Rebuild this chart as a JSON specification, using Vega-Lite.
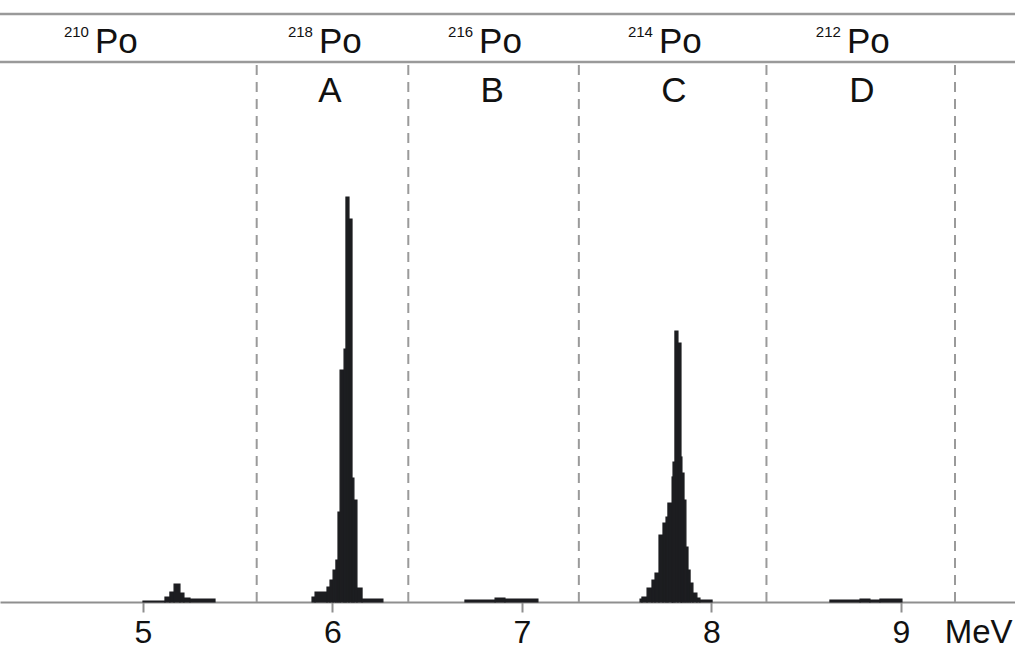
{
  "$schema": "https://vega.github.io/schema/vega-lite/v6.json",
  "autosize": {"type": "none"},
  "padding": {"top": 14, "left": 0, "right": 0, "bottom": 48},
  "width": 1015,
  "height": 588,
  "background": "white",
  "config": {
    "view": {"stroke": null},
    "font": "Liberation Sans",
    "axis": {"grid": false}
  },
  "datasets": {
    "hist": [
      {"x0": 5.000, "x1": 5.116, "h": 1},
      {"x0": 5.116, "x1": 5.142, "h": 5},
      {"x0": 5.142, "x1": 5.164, "h": 10},
      {"x0": 5.164, "x1": 5.195, "h": 18},
      {"x0": 5.195, "x1": 5.216, "h": 9},
      {"x0": 5.216, "x1": 5.248, "h": 4},
      {"x0": 5.248, "x1": 5.380, "h": 3},
      {"x0": 5.892, "x1": 5.908, "h": 5},
      {"x0": 5.908, "x1": 5.971, "h": 10},
      {"x0": 5.971, "x1": 5.987, "h": 15},
      {"x0": 5.987, "x1": 6.003, "h": 22},
      {"x0": 6.003, "x1": 6.018, "h": 32},
      {"x0": 6.018, "x1": 6.029, "h": 42},
      {"x0": 6.029, "x1": 6.040, "h": 90},
      {"x0": 6.040, "x1": 6.061, "h": 232},
      {"x0": 6.061, "x1": 6.071, "h": 253},
      {"x0": 6.071, "x1": 6.087, "h": 405},
      {"x0": 6.087, "x1": 6.103, "h": 383},
      {"x0": 6.103, "x1": 6.113, "h": 124},
      {"x0": 6.113, "x1": 6.129, "h": 102},
      {"x0": 6.129, "x1": 6.156, "h": 14},
      {"x0": 6.156, "x1": 6.266, "h": 3},
      {"x0": 6.699, "x1": 6.858, "h": 2},
      {"x0": 6.858, "x1": 6.910, "h": 4},
      {"x0": 6.910, "x1": 7.084, "h": 3},
      {"x0": 7.623, "x1": 7.633, "h": 3},
      {"x0": 7.633, "x1": 7.660, "h": 5},
      {"x0": 7.660, "x1": 7.686, "h": 14},
      {"x0": 7.686, "x1": 7.702, "h": 22},
      {"x0": 7.702, "x1": 7.723, "h": 29},
      {"x0": 7.723, "x1": 7.744, "h": 67},
      {"x0": 7.744, "x1": 7.760, "h": 79},
      {"x0": 7.760, "x1": 7.770, "h": 85},
      {"x0": 7.770, "x1": 7.792, "h": 99},
      {"x0": 7.792, "x1": 7.797, "h": 125},
      {"x0": 7.797, "x1": 7.807, "h": 140},
      {"x0": 7.807, "x1": 7.823, "h": 271},
      {"x0": 7.823, "x1": 7.839, "h": 259},
      {"x0": 7.839, "x1": 7.844, "h": 145},
      {"x0": 7.844, "x1": 7.855, "h": 129},
      {"x0": 7.855, "x1": 7.865, "h": 102},
      {"x0": 7.865, "x1": 7.876, "h": 55},
      {"x0": 7.876, "x1": 7.887, "h": 32},
      {"x0": 7.887, "x1": 7.902, "h": 19},
      {"x0": 7.902, "x1": 7.923, "h": 9},
      {"x0": 7.923, "x1": 7.939, "h": 4},
      {"x0": 7.939, "x1": 8.003, "h": 2},
      {"x0": 8.625, "x1": 8.784, "h": 2},
      {"x0": 8.784, "x1": 8.836, "h": 3},
      {"x0": 8.836, "x1": 8.889, "h": 2},
      {"x0": 8.889, "x1": 9.005, "h": 3}
    ],
    "dividers": [
      {"xv": 5.60}, {"xv": 6.40}, {"xv": 7.30}, {"xv": 8.29}, {"xv": 9.285}
    ],
    "hlines": [{"yv": 588}, {"yv": 540}],
    "isotopes": [
      {"iso": "210", "el": "Po", "x": 4.736},
      {"iso": "218", "el": "Po", "x": 5.918},
      {"iso": "216", "el": "Po", "x": 6.763},
      {"iso": "214", "el": "Po", "x": 7.712},
      {"iso": "212", "el": "Po", "x": 8.704}
    ],
    "letters": [
      {"t": "A", "x": 5.987},
      {"t": "B", "x": 6.842},
      {"t": "C", "x": 7.802},
      {"t": "D", "x": 8.794}
    ]
  },
  "layer": [
    {
      "data": {"name": "dividers"},
      "mark": {"type": "rule", "color": "#9a9a9a", "strokeWidth": 2, "strokeDash": [10, 7]},
      "encoding": {
        "x": {"field": "xv", "type": "quantitative",
              "scale": {"domain": [4.2454, 9.6016], "nice": false, "zero": false},
              "axis": {
                "values": [5, 6, 7, 8, 9], "format": "d",
                "domainColor": "#8f8f8f", "domainWidth": 2,
                "tickColor": "#8f8f8f", "tickWidth": 2, "tickSize": 10,
                "labelFont": "Liberation Sans", "labelFontSize": 32, "labelColor": "#111111",
                "labelBaseline": "alphabetic",
                "labelPadding": 30, "labelFlush": false, "labelOverlap": false,
                "title": "MeV", "titleFont": "Liberation Sans", "titleFontSize": 33,
                "titleFontWeight": "normal", "titleColor": "#111111",
                "titleAlign": "right", "titleBaseline": "alphabetic",
                "titleX": 1012, "titleY": 40
              }},
        "y": {"datum": 0, "type": "quantitative",
              "scale": {"domain": [0, 588], "nice": false, "zero": true}, "axis": null},
        "y2": {"datum": 540}
      }
    },
    {
      "data": {"name": "hist"},
      "mark": {"type": "rect", "color": "#1c1d20", "stroke": "#1c1d20", "strokeWidth": 1.2},
      "encoding": {
        "x": {"field": "x0", "type": "quantitative"},
        "x2": {"field": "x1"},
        "y": {"field": "h", "type": "quantitative"},
        "y2": {"datum": 0}
      }
    },
    {
      "data": {"name": "hlines"},
      "mark": {"type": "rule", "color": "#9a9a9a", "strokeWidth": 2.5},
      "encoding": {
        "y": {"field": "yv", "type": "quantitative"}
      }
    },
    {
      "data": {"name": "isotopes"},
      "mark": {"type": "text", "align": "right", "baseline": "alphabetic", "dx": -4,
               "font": "Liberation Sans", "fontSize": 15, "color": "#111111"},
      "encoding": {
        "x": {"field": "x", "type": "quantitative"},
        "y": {"datum": 565, "type": "quantitative"},
        "text": {"field": "iso"}
      }
    },
    {
      "data": {"name": "isotopes"},
      "mark": {"type": "text", "align": "left", "baseline": "alphabetic", "dx": 2,
               "font": "Liberation Sans", "fontSize": 35, "color": "#111111"},
      "encoding": {
        "x": {"field": "x", "type": "quantitative"},
        "y": {"datum": 549, "type": "quantitative"},
        "text": {"field": "el"}
      }
    },
    {
      "data": {"name": "letters"},
      "mark": {"type": "text", "align": "center", "baseline": "alphabetic",
               "font": "Liberation Sans", "fontSize": 35, "color": "#111111"},
      "encoding": {
        "x": {"field": "x", "type": "quantitative"},
        "y": {"datum": 500, "type": "quantitative"},
        "text": {"field": "t"}
      }
    }
  ]
}
